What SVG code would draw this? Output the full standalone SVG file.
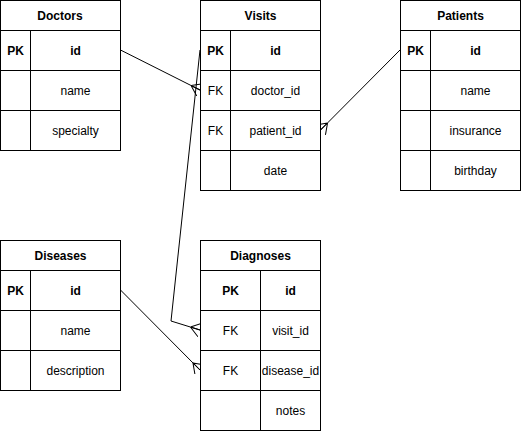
<svg xmlns="http://www.w3.org/2000/svg" width="521" height="431" viewBox="0 0 521 431">
<style>
.box{fill:#ffffff;stroke:#000000;stroke-width:1}
.ln{stroke:#000000;stroke-width:1;fill:none}
text{font-family:"Liberation Sans",Arial,sans-serif;font-size:12px;fill:#000000;text-anchor:middle;dominant-baseline:central}
.b{font-weight:bold}
.edge{stroke:#000000;stroke-width:1;fill:none;marker-end:url(#many)}
</style>
<defs>
<marker id="many" viewBox="0 0 10 14" refX="10" refY="7" markerWidth="10" markerHeight="14" markerUnits="userSpaceOnUse" orient="auto">
<path d="M0,7 L10,0 M0,7 L10,7 M0,7 L10,14" fill="none" stroke="#000000" stroke-width="1"/>
</marker>
</defs>
<rect width="521" height="431" fill="#ffffff"/>
<g id="connectors">
<path class="edge" d="M120.5,50 L200,90"/>
<path class="edge" d="M400,50 L320.5,130"/>
<path class="edge" d="M200,50 L171,321 L200,330"/>
<path class="edge" d="M120.5,290 L200,370"/>
</g>
<g id="doctors">
<rect class="box" x="0.5" y="0.5" width="120" height="150"/>
<path class="ln" d="M0.5,30.5 H120.5 M0.5,70.5 H120.5 M0.5,110.5 H120.5 M30.5,30.5 V150.5"/>
<text class="b" x="60" y="15.5">Doctors</text>
<text class="b" x="15.5" y="50.5">PK</text>
<text class="b" x="75.5" y="50.5">id</text>
<text x="75.5" y="90.5">name</text>
<text x="75.5" y="130.5">specialty</text>
</g>
<g id="visits">
<rect class="box" x="200.5" y="0.5" width="120" height="190"/>
<path class="ln" d="M200.5,30.5 H320.5 M200.5,70.5 H320.5 M200.5,110.5 H320.5 M200.5,150.5 H320.5 M230.5,30.5 V190.5"/>
<text class="b" x="260.5" y="15.5">Visits</text>
<text class="b" x="215.5" y="50.5">PK</text>
<text class="b" x="275.5" y="50.5">id</text>
<text x="215.5" y="90.5">FK</text>
<text x="275.5" y="90.5">doctor_id</text>
<text x="215.5" y="130.5">FK</text>
<text x="275.5" y="130.5">patient_id</text>
<text x="275.5" y="170.5">date</text>
</g>
<g id="patients">
<rect class="box" x="400.5" y="0.5" width="120" height="190"/>
<path class="ln" d="M400.5,30.5 H520.5 M400.5,70.5 H520.5 M400.5,110.5 H520.5 M400.5,150.5 H520.5 M430.5,30.5 V190.5"/>
<text class="b" x="460.5" y="15.5">Patients</text>
<text class="b" x="415.5" y="50.5">PK</text>
<text class="b" x="475.5" y="50.5">id</text>
<text x="475.5" y="90.5">name</text>
<text x="475.5" y="130.5">insurance</text>
<text x="475.5" y="170.5">birthday</text>
</g>
<g id="diseases">
<rect class="box" x="0.5" y="240.5" width="120" height="150"/>
<path class="ln" d="M0.5,270.5 H120.5 M0.5,310.5 H120.5 M0.5,350.5 H120.5 M30.5,270.5 V390.5"/>
<text class="b" x="60.5" y="255.5">Diseases</text>
<text class="b" x="15.5" y="290.5">PK</text>
<text class="b" x="75.5" y="290.5">id</text>
<text x="75.5" y="330.5">name</text>
<text x="75.5" y="370.5">description</text>
</g>
<g id="diagnoses">
<rect class="box" x="200.5" y="240.5" width="120" height="190"/>
<path class="ln" d="M200.5,270.5 H320.5 M200.5,310.5 H320.5 M200.5,350.5 H320.5 M200.5,390.5 H320.5 M260.5,270.5 V430.5"/>
<text class="b" x="260.5" y="255.5">Diagnoses</text>
<text class="b" x="230.5" y="290.5">PK</text>
<text class="b" x="290.5" y="290.5">id</text>
<text x="230.5" y="330.5">FK</text>
<text x="290.5" y="330.5">visit_id</text>
<text x="230.5" y="370.5">FK</text>
<text x="290.5" y="370.5">disease_id</text>
<text x="290.5" y="410.5">notes</text>
</g>
</svg>
